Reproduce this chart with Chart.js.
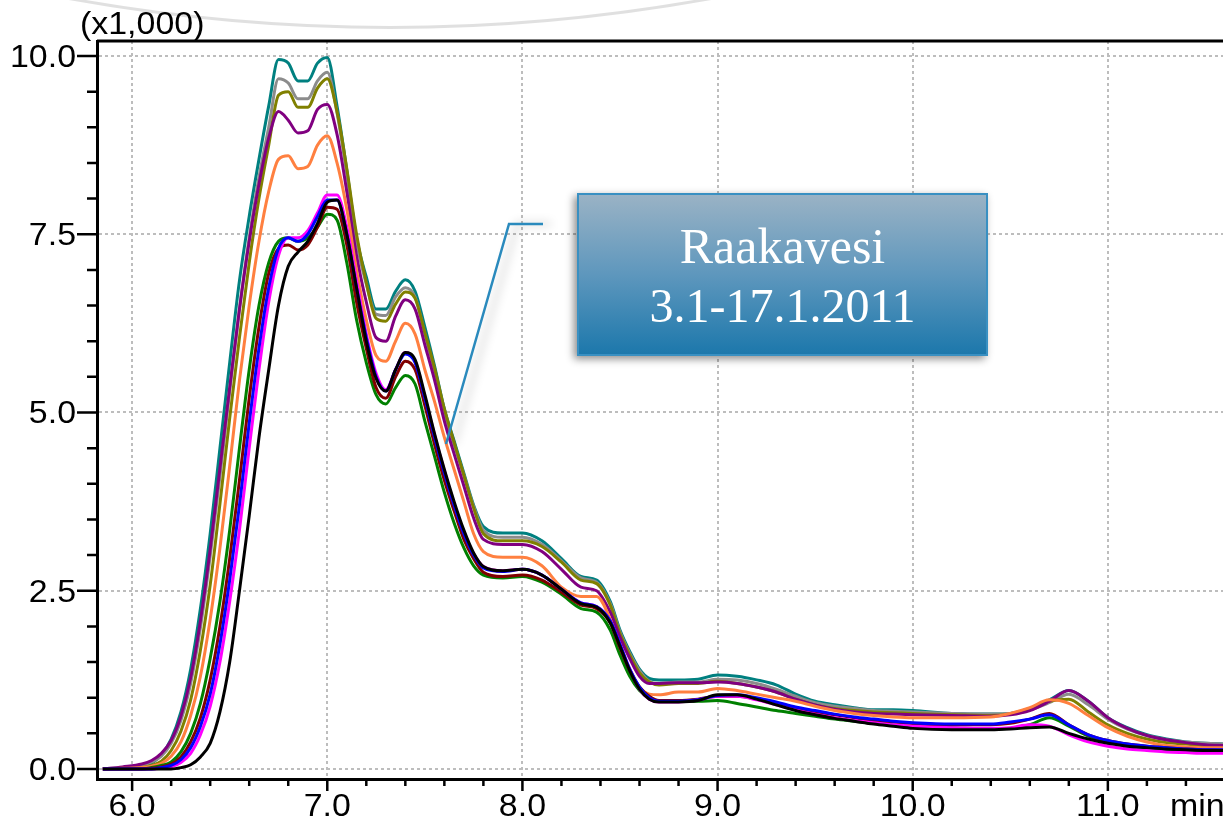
<!DOCTYPE html>
<html>
<head>
<meta charset="utf-8">
<script src="https://cdn.jsdelivr.net/npm/chart.js@4.4.1/dist/chart.umd.min.js"></script>
<style>
  html, body { margin: 0; padding: 0; background: #fff; }
  canvas { display: block; }
</style>
</head>
<body>
<canvas id="chroma" width="1223" height="824"></canvas>
<script>
// retention time (min), shared by all traces
var times = [5.85, 5.95, 6.05,
  6.1, 6.15, 6.2, 6.25, 6.3, 6.35, 6.4, 6.45, 6.5, 6.55,
  6.6, 6.65, 6.7, 6.75, 6.8, 6.85, 6.9, 6.95, 7.0, 7.05,
  7.1, 7.15, 7.2, 7.25, 7.3, 7.35, 7.4, 7.45, 7.5, 7.55,
  7.6, 7.65, 7.7, 7.75, 7.8,
  7.9, 8.0, 8.1, 8.2, 8.3, 8.38, 8.45, 8.5, 8.55, 8.6, 8.65, 8.7,
  8.8, 8.9, 9.0, 9.1, 9.2, 9.3, 9.4, 9.5, 9.6, 9.7, 9.8, 9.9, 10.0,
  10.2, 10.4, 10.5, 10.6, 10.7, 10.8, 10.9, 11.0, 11.1, 11.2, 11.3, 11.4, 11.5, 11.6];

// intensities (x1,000)
var teal = [0, 0.01, 0.02,
  0.08, 0.2, 0.42, 0.8, 1.4, 2.25, 3.3, 4.5, 5.7, 6.85,
  7.75, 8.55, 9.3, 9.95, 9.9, 9.65, 9.65, 9.9, 9.98, 9.3,
  8.4, 7.45, 6.9, 6.45, 6.45, 6.7, 6.86, 6.7, 6.2, 5.65,
  5.05, 4.6, 4.15, 3.7, 3.4,
  3.31, 3.31, 3.2, 2.95, 2.7, 2.65, 2.35, 1.95, 1.65, 1.4, 1.27, 1.25,
  1.25, 1.26, 1.32, 1.3, 1.25, 1.18, 1.05, 0.95, 0.9, 0.86, 0.83, 0.83, 0.82,
  0.78, 0.77, 0.78, 0.85, 0.97, 1.1, 0.95, 0.72, 0.58, 0.48, 0.42, 0.38, 0.36, 0.35];
var gray = [0, 0.02, 0.05,
  0.1, 0.18, 0.36, 0.68, 1.2, 1.98, 2.98, 4.1, 5.3, 6.45,
  7.45, 8.3, 9.0, 9.68, 9.62, 9.4, 9.4, 9.65, 9.77, 9.2,
  8.35, 7.4, 6.8, 6.38, 6.36, 6.62, 6.75, 6.62, 6.1, 5.58,
  5.0, 4.55, 4.12, 3.68, 3.35,
  3.25, 3.25, 3.15, 2.92, 2.68, 2.62, 2.32, 1.92, 1.62, 1.38, 1.23, 1.2,
  1.22, 1.22, 1.26, 1.25, 1.2, 1.12, 1.02, 0.93, 0.88, 0.85, 0.82, 0.81, 0.8,
  0.78, 0.77, 0.78, 0.83, 0.93, 1.05, 0.9, 0.7, 0.56, 0.47, 0.41, 0.38, 0.36, 0.35];
var olive = [0, 0.01, 0.02,
  0.05, 0.11, 0.26, 0.53, 0.97, 1.67, 2.58, 3.72, 4.92, 6.05,
  7.1, 8.0, 8.75, 9.45, 9.5, 9.28, 9.28, 9.55, 9.68, 9.22,
  8.42, 7.5, 6.82, 6.32, 6.28, 6.52, 6.69, 6.6, 6.12, 5.62,
  5.05, 4.58, 4.12, 3.66, 3.3,
  3.2, 3.2, 3.12, 2.9, 2.65, 2.6, 2.3, 1.9, 1.6, 1.35, 1.22, 1.18,
  1.2, 1.2, 1.23, 1.2, 1.15, 1.08, 0.98, 0.9, 0.85, 0.82, 0.8, 0.79, 0.78,
  0.76, 0.75, 0.77, 0.83, 0.95, 0.98, 0.8, 0.62, 0.5, 0.42, 0.37, 0.35, 0.33, 0.33];
var purple = [0, 0.03, 0.07,
  0.12, 0.22, 0.4, 0.74, 1.28, 2.08, 3.08, 4.22, 5.35, 6.45,
  7.4, 8.2, 8.85, 9.22, 9.1, 8.92, 8.95, 9.25, 9.32, 8.9,
  8.1, 7.2, 6.55, 6.05, 6.0, 6.35, 6.58, 6.45, 5.95, 5.45,
  4.88, 4.42, 3.97, 3.52, 3.22,
  3.15, 3.15, 3.05, 2.8, 2.55, 2.5, 2.2, 1.85, 1.55, 1.3, 1.2, 1.2,
  1.21, 1.21, 1.22, 1.2, 1.15, 1.08, 0.98, 0.9, 0.84, 0.8, 0.78, 0.77, 0.76,
  0.75, 0.74, 0.76, 0.82, 0.95, 1.1, 0.95, 0.72, 0.57, 0.47, 0.41, 0.37, 0.34, 0.33];
var orange = [0, 0.01, 0.02,
  0.04, 0.08, 0.18, 0.38, 0.75, 1.3, 2.1, 3.1, 4.25, 5.45,
  6.5, 7.4, 8.1, 8.55, 8.6, 8.42, 8.45, 8.75, 8.88, 8.5,
  7.85, 7.0, 6.3, 5.8, 5.72, 6.0, 6.25, 6.1, 5.6, 5.15,
  4.65, 4.2, 3.75, 3.3, 3.05,
  2.97, 2.97, 2.85, 2.55, 2.42, 2.42, 2.1, 1.7, 1.4, 1.15, 1.05, 1.04,
  1.08, 1.08, 1.13, 1.1, 1.05, 1.0, 0.95, 0.88, 0.82, 0.78, 0.75, 0.73, 0.72,
  0.72, 0.73, 0.78, 0.86, 0.97, 0.92, 0.75, 0.58, 0.46, 0.38, 0.33, 0.31, 0.3, 0.3];
var green = [0, 0, 0,
  0.02, 0.05, 0.1, 0.24, 0.5, 0.92, 1.55, 2.35, 3.35, 4.5,
  5.6, 6.5, 7.1, 7.4, 7.45, 7.4, 7.45, 7.6, 7.78, 7.7,
  7.1, 6.3, 5.7, 5.25, 5.12, 5.35, 5.52, 5.4, 4.88, 4.38,
  3.88, 3.45, 3.1, 2.85, 2.72,
  2.68, 2.7, 2.62, 2.45, 2.25, 2.2, 1.95, 1.6, 1.3, 1.1, 1.0, 0.95,
  0.95, 0.95, 0.96, 0.92, 0.87, 0.82, 0.78, 0.74, 0.7, 0.67, 0.64, 0.62, 0.6,
  0.58, 0.56, 0.57, 0.62, 0.72, 0.6, 0.46, 0.38, 0.33, 0.3, 0.27, 0.25, 0.24, 0.24];
var darkred = [0, 0, 0,
  0.01, 0.03, 0.07, 0.17, 0.38, 0.72, 1.25, 2.0, 2.95, 4.05,
  5.2, 6.2, 6.95, 7.3, 7.35, 7.28, 7.35, 7.6, 7.88, 7.85,
  7.35, 6.55, 5.9, 5.35, 5.2, 5.5, 5.72, 5.6, 5.1, 4.55,
  4.05, 3.62, 3.22, 2.95, 2.76,
  2.7, 2.72, 2.65, 2.48, 2.3, 2.25, 2.05, 1.7, 1.38, 1.15, 1.02, 0.96,
  0.96, 0.98, 1.02, 1.02, 0.98, 0.92, 0.85, 0.8, 0.76, 0.72, 0.68, 0.66, 0.64,
  0.62, 0.62, 0.64, 0.7, 0.78, 0.62, 0.48, 0.4, 0.35, 0.32, 0.3, 0.28, 0.27, 0.26];
var blue = [0, 0, 0,
  0.0, 0.02, 0.05, 0.13, 0.3, 0.6, 1.05, 1.75, 2.65, 3.7,
  4.85, 5.9, 6.75, 7.3, 7.45, 7.4, 7.5, 7.75, 7.98, 7.98,
  7.5, 6.75, 6.05, 5.5, 5.3, 5.6, 5.82, 5.7, 5.2, 4.65,
  4.15, 3.7, 3.3, 3.0, 2.82,
  2.77, 2.8, 2.72, 2.52, 2.33, 2.28, 2.08, 1.75, 1.4, 1.15, 1.0, 0.95,
  0.95, 0.97, 1.03, 1.04, 1.0, 0.94, 0.87, 0.82, 0.77, 0.73, 0.7, 0.67, 0.65,
  0.63, 0.63, 0.66, 0.7, 0.76, 0.62, 0.48, 0.4, 0.35, 0.32, 0.3, 0.28, 0.27, 0.27];
var magenta = [0, 0, 0,
  0.0, 0.01, 0.03, 0.09, 0.22, 0.48, 0.88, 1.5, 2.35, 3.35,
  4.5, 5.6, 6.55, 7.2, 7.45, 7.45, 7.55, 7.8, 8.05, 8.05,
  7.6, 6.85, 6.1, 5.55, 5.32, 5.6, 5.84, 5.72, 5.22, 4.68,
  4.18, 3.72, 3.32, 3.02, 2.84,
  2.78, 2.8, 2.72, 2.52, 2.33, 2.28, 2.08, 1.75, 1.4, 1.12, 0.98, 0.94,
  0.94, 0.97, 1.02, 1.02, 0.97, 0.9, 0.83, 0.77, 0.72, 0.68, 0.65, 0.62, 0.6,
  0.58, 0.57, 0.58, 0.62, 0.6, 0.48, 0.38, 0.32, 0.28, 0.26, 0.24, 0.23, 0.22, 0.22];
var black = [0, 0, 0,
  0.0, 0.0, 0.0, 0.02, 0.06, 0.17, 0.36, 0.8, 1.5, 2.5,
  3.55, 4.65, 5.6, 6.5, 7.05, 7.25, 7.4, 7.65, 7.95, 7.98,
  7.5, 6.75, 6.0, 5.48, 5.3, 5.6, 5.84, 5.74, 5.25, 4.7,
  4.2, 3.75, 3.35, 3.03, 2.84,
  2.78, 2.8, 2.72, 2.52, 2.32, 2.27, 2.05, 1.72, 1.38, 1.12, 0.98, 0.94,
  0.94, 0.96, 1.04, 1.04, 0.98, 0.9, 0.82, 0.76, 0.71, 0.67, 0.63, 0.6, 0.57,
  0.55, 0.55, 0.56, 0.58, 0.59, 0.5, 0.42, 0.36, 0.32, 0.3, 0.28, 0.27, 0.26, 0.26];

var xTickValues = [6, 7, 8, 9, 10, 11];
var xTickLabels = ['6.0', '7.0', '8.0', '9.0', '10.0', '11.0'];
var yTickValues = [0, 2.5, 5, 7.5, 10];
var yTickLabels = ['0.0', '2.5', '5.0', '7.5', '10.0'];
var yUnitLabel = '(x1,000)';
var xUnitLabel = 'min';
var calloutText = ['Raakavesi', '3.1-17.1.2011'];

// first entry is drawn on top
var traces = [
  { name: 'black', values: black, color: '#000000' },
  { name: 'blue', values: blue, color: '#0000ff' },
  { name: 'magenta', values: magenta, color: '#ff00ff' },
  { name: 'darkred', values: darkred, color: '#800000' },
  { name: 'green', values: green, color: '#008000' },
  { name: 'orange', values: orange, color: '#ff8040' },
  { name: 'purple', values: purple, color: '#800080' },
  { name: 'olive', values: olive, color: '#808000' },
  { name: 'gray', values: gray, color: '#8c8c8c' },
  { name: 'teal', values: teal, color: '#008080' }
];

function toPoints(vals) {
  return vals.map(function (v, i) { return { x: times[i], y: v }; });
}

function wideText(c, text, x, y, align) {
  c.save();
  c.translate(x, y);
  c.scale(1.06, 1);
  c.textAlign = align;
  c.fillText(text, 0, 0);
  c.restore();
}

var decor = {
  id: 'decor',
  beforeDraw: function (chart) {
    var c = chart.ctx;
    c.save();
    c.fillStyle = '#fff';
    c.fillRect(0, 0, chart.width, chart.height);
    // faint arc left over at the top of the screenshot
    c.strokeStyle = 'rgba(0,0,0,0.12)';
    c.lineWidth = 3;
    c.beginPath();
    c.moveTo(50, -5);
    c.quadraticCurveTo(390, 60, 730, -5);
    c.stroke();
    c.restore();
  },
  afterDraw: function (chart) {
    var c = chart.ctx;
    var xs = chart.scales.x, ys = chart.scales.y;
    var area = chart.chartArea;
    c.save();

    // top frame line
    c.strokeStyle = '#000';
    c.lineWidth = 3;
    c.beginPath();
    c.moveTo(area.left, area.top);
    c.lineTo(area.right, area.top);
    c.stroke();

    // tick marks
    c.lineWidth = 2.5;
    c.beginPath();
    var v, p;
    for (v = 5.8; v < xs.max; v += 0.2) {
      if (v < xs.min) continue;
      p = xs.getPixelForValue(v);
      var major = Math.abs(v - Math.round(v)) < 0.01;
      c.moveTo(p, area.bottom);
      c.lineTo(p, area.bottom + (major ? 12 : 7));
    }
    for (v = 0; v <= 10.001; v += 0.5) {
      p = ys.getPixelForValue(v);
      var ymajor = Math.abs(v / 2.5 - Math.round(v / 2.5)) < 0.01;
      c.moveTo(area.left, p);
      c.lineTo(area.left - (ymajor ? 20 : 10), p);
    }
    c.stroke();

    // tick labels
    c.fillStyle = '#000';
    c.font = '32px "Liberation Sans", Arial, sans-serif';
    c.textBaseline = 'alphabetic';
    yTickValues.forEach(function (val, i) {
      wideText(c, yTickLabels[i], 76, ys.getPixelForValue(val) + 11, 'right');
    });
    xTickValues.forEach(function (val, i) {
      wideText(c, xTickLabels[i], xs.getPixelForValue(val), 816, 'center');
    });
    wideText(c, yUnitLabel, 80, 34, 'left');
    wideText(c, xUnitLabel, 1170, 816, 'left');

    // callout leader
    c.save();
    c.shadowColor = 'rgba(0,0,0,0.25)';
    c.shadowBlur = 10;
    c.shadowOffsetX = 8;
    c.strokeStyle = '#2a8abd';
    c.lineWidth = 2.5;
    c.beginPath();
    c.moveTo(543, 224);
    c.lineTo(509, 224);
    c.lineTo(446, 444);
    c.stroke();
    c.restore();

    // callout box
    var bx = 577, by = 193, bw = 411, bh = 163;
    c.save();
    c.shadowColor = 'rgba(0,0,0,0.45)';
    c.shadowBlur = 8;
    c.shadowOffsetX = -3;
    c.shadowOffsetY = 3;
    var g = c.createLinearGradient(0, by, 0, by + bh);
    g.addColorStop(0, '#9bb3c5');
    g.addColorStop(0.5, '#5e97bd');
    g.addColorStop(1, '#1b77ab');
    c.fillStyle = g;
    c.fillRect(bx, by, bw, bh);
    c.restore();
    c.strokeStyle = '#3990c2';
    c.lineWidth = 2;
    c.strokeRect(bx + 1, by + 1, bw - 2, bh - 2);

    c.fillStyle = '#fff';
    c.textAlign = 'center';
    c.font = '50px "Liberation Serif", "Times New Roman", serif';
    c.fillText(calloutText[0], bx + bw / 2, 263);
    c.font = '48px "Liberation Serif", "Times New Roman", serif';
    c.fillText(calloutText[1], bx + bw / 2, 322);
    c.restore();
  }
};

var ctx = document.getElementById('chroma').getContext('2d');
var chart = new Chart(ctx, {
  type: 'line',
  data: {
    datasets: traces.map(function (t) {
      return {
        label: t.name,
        data: toPoints(t.values),
        borderColor: t.color,
        borderWidth: 3,
        pointRadius: 0,
        fill: false,
        cubicInterpolationMode: 'monotone'
      };
    })
  },
  options: {
    responsive: false,
    animation: false,
    devicePixelRatio: 1,
    layout: { padding: { top: 41, left: 0, right: 0, bottom: 0 } },
    plugins: { legend: { display: false }, tooltip: { enabled: false } },
    scales: {
      x: {
        type: 'linear',
        min: 5.82,
        max: 11.59,
        ticks: { display: false, stepSize: 1, includeBounds: false },
        grid: { color: '#bdbdbd', lineWidth: 2, drawTicks: false },
        border: { display: true, color: '#000', width: 3, dash: [3, 3] },
        afterFit: function (s) { s.height = 45; }
      },
      y: {
        type: 'linear',
        min: -0.14,
        max: 10.21,
        ticks: { display: false, stepSize: 2.5, includeBounds: false },
        grid: { color: '#bdbdbd', lineWidth: 2, drawTicks: false },
        border: { display: true, color: '#000', width: 3, dash: [3, 3] },
        afterFit: function (s) { s.width = 97; }
      }
    }
  },
  plugins: [decor]
});
</script>
</body>
</html>
